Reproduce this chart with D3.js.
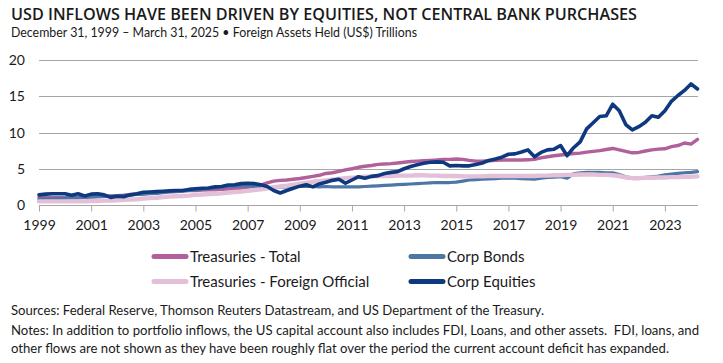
<!DOCTYPE html>
<html lang="en">
<head>
  <meta charset="UTF-8">
  <style>
    html, body { margin: 0; padding: 0; background: #fff; }
    svg { display: block; }
    .title { font-family: "Open Sans", sans-serif; font-weight: 600; font-size: 16px; fill: #1a1a1a; }
    .subtitle { font-family: "Lato", sans-serif; font-size: 12.5px; fill: #1a1a1a; }
    .tick-label { font-family: "Lato", sans-serif; font-size: 14px; fill: #1a1a1a; }
    .legend-text { font-family: "Lato", sans-serif; font-size: 15px; fill: #1a1a1a; }
    .note { font-family: "Lato", sans-serif; font-size: 13px; fill: #1a1a1a; }
    .grid { stroke: #a6a6a6; stroke-width: 1; }
    .series { fill: none; stroke-linejoin: round; stroke-linecap: round; }
  </style>
  <script src="https://d3js.org/d3.v7.min.js"></script>
</head>
<body>
  <svg width="723" height="363" id="chart"></svg>

  <script>
    // Quarterly observations, Dec 31 1999 (index 0) to Mar 31 2025 (index 101), US$ trillions
    const treasuriesTotal = [
      1.05, 1.05, 1.0, 1.0,   1.0, 1.0, 1.0, 1.05,    1.1, 1.15, 1.2, 1.25,
      1.3, 1.35, 1.45, 1.5,   1.55, 1.65, 1.7, 1.8,   1.85, 1.9, 1.95, 2.0,
      2.0, 2.05, 2.1, 2.1,    2.15, 2.2, 2.3, 2.35,   2.45, 2.6, 2.75, 3.05,
      3.3, 3.4, 3.45, 3.55,   3.65, 3.8, 3.95, 4.1,   4.35, 4.45, 4.65, 4.85,
      5.0, 5.2, 5.35, 5.45,   5.6, 5.65, 5.7, 5.8,    5.9, 6.0, 6.05, 6.1,
      6.15, 6.2, 6.3, 6.3,    6.35, 6.3, 6.15, 6.05,  6.05, 6.1, 6.15, 6.2,
      6.2, 6.2, 6.2, 6.25,    6.3, 6.5, 6.65, 6.8,    6.9, 7.0, 7.1, 7.15,
      7.3, 7.4, 7.5, 7.65,    7.8, 7.6, 7.4, 7.2,     7.25, 7.45, 7.6, 7.7,
      7.75, 8.05, 8.2, 8.55,  8.4, 9.05
    ];
    const corpBonds = [
      0.8, 0.85, 0.85, 0.9,   0.95, 1.0, 1.0, 1.05,   1.1, 1.15, 1.2, 1.2,
      1.25, 1.3, 1.35, 1.45,  1.5, 1.55, 1.6, 1.7,    1.8, 1.85, 1.9, 2.0,
      2.05, 2.15, 2.25, 2.35, 2.45, 2.55, 2.6, 2.65,  2.65, 2.6, 2.55, 2.45,
      2.4, 2.45, 2.5, 2.55,   2.55, 2.55, 2.55, 2.5,  2.55, 2.5, 2.5, 2.5,
      2.5, 2.5, 2.55, 2.6,    2.65, 2.7, 2.75, 2.8,   2.85, 2.9, 2.95, 3.0,
      3.05, 3.1, 3.1, 3.1,    3.15, 3.3, 3.45, 3.5,   3.55, 3.6, 3.65, 3.7,
      3.7, 3.7, 3.65, 3.6,    3.55, 3.7, 3.8, 3.85,   3.9, 3.7, 4.3, 4.45,
      4.5, 4.5, 4.5, 4.45,    4.45, 4.2, 3.9, 3.7,    3.75, 3.8, 3.9, 4.0,
      4.15, 4.25, 4.35, 4.45, 4.5, 4.6
    ];
    const treasuriesOfficial = [
      0.5, 0.5, 0.5, 0.5,     0.5, 0.5, 0.5, 0.5,     0.55, 0.55, 0.6, 0.6,
      0.65, 0.7, 0.75, 0.8,   0.9, 0.95, 1.0, 1.1,    1.15, 1.2, 1.25, 1.3,
      1.4, 1.45, 1.5, 1.55,   1.6, 1.7, 1.8, 1.85,    1.95, 2.05, 2.15, 2.3,
      2.45, 2.55, 2.65, 2.8,  2.95, 3.05, 3.2, 3.3,   3.4, 3.5, 3.6, 3.7,
      3.75, 3.85, 3.9, 3.95,  4.0, 4.0, 4.0, 4.05,    4.05, 4.05, 4.1, 4.1,
      4.05, 4.05, 4.0, 4.0,   4.0, 3.95, 3.95, 3.95,  3.95, 4.0, 4.0, 4.0,
      4.0, 4.0, 4.0, 4.0,     4.0, 4.05, 4.05, 4.1,   4.1, 4.15, 4.15, 4.2,
      4.2, 4.2, 4.15, 4.15,   4.1, 4.0, 3.8, 3.7,     3.7, 3.75, 3.75, 3.8,
      3.8, 3.85, 3.85, 3.9,   3.9, 3.95
    ];
    const corpEquities = [
      1.4, 1.5, 1.55, 1.55,   1.55, 1.35, 1.55, 1.25, 1.5, 1.55, 1.4, 1.05,
      1.2, 1.15, 1.4, 1.55,   1.75, 1.8, 1.85, 1.9,   1.95, 2.0, 2.0, 2.15,
      2.25, 2.3, 2.35, 2.5,   2.55, 2.75, 2.8, 2.95,  3.0, 2.95, 2.8, 2.55,
      2.0, 1.65, 2.0, 2.3,    2.6, 2.8, 2.5, 2.9,     3.15, 3.4, 3.55, 3.0,
      3.45, 3.9, 3.7, 3.95,   4.05, 4.35, 4.5, 4.6,   5.0, 5.3, 5.55, 5.75,
      5.9, 5.95, 5.9, 5.4,    5.45, 5.4, 5.4, 5.6,    5.8, 6.15, 6.35, 6.6,
      7.0, 7.05, 7.3, 7.6,    6.65, 7.25, 7.6, 7.7,   8.2, 6.8, 7.9, 8.7,
      10.5, 11.35, 12.2, 12.3, 13.9, 13.0, 11.1, 10.35, 10.8, 11.4, 12.3, 12.1,
      13.0, 14.3, 15.1, 15.8, 16.7, 16.0
    ];

    const seriesNames = ["Treasuries - Total", "Corp Bonds", "Treasuries - Foreign Official", "Corp Equities"];
    const seriesColors = ["#b2609a", "#4c76a6", "#e3bfd8", "#0f397f"];
    const seriesWidths = [3.4, 3.2, 4.4, 3.6];
    const seriesValues = [treasuriesTotal, corpBonds, treasuriesOfficial, corpEquities];

    const yTicks = [0, 5, 10, 15, 20];
    const xTickLabels = ["1999", "2001", "2003", "2005", "2007", "2009", "2011",
                         "2013", "2015", "2017", "2019", "2021", "2023"];

    const svg = d3.select("#chart");

    // titles
    svg.append("text").attr("class", "title")
      .attr("x", 11).attr("y", 20)
      .attr("textLength", 626).attr("lengthAdjust", "spacingAndGlyphs")
      .text("USD INFLOWS HAVE BEEN DRIVEN BY EQUITIES, NOT CENTRAL BANK PURCHASES");
    svg.append("text").attr("class", "subtitle")
      .attr("x", 11).attr("y", 37)
      .attr("textLength", 406).attr("lengthAdjust", "spacingAndGlyphs")
      .text("December 31, 1999 \u2013 March 31, 2025 \u2022 Foreign Assets Held (US$) Trillions");

    const x = d3.scaleLinear().domain([0, treasuriesTotal.length - 1]).range([39, 697.5]);
    const y = d3.scaleLinear().domain([0, 20]).range([205, 60]);

    // grid lines
    svg.append("g").selectAll("line")
      .data(yTicks)
      .join("line")
      .attr("class", "grid")
      .attr("x1", 39).attr("x2", 698)
      .attr("y1", d => Math.round(y(d)) + 0.5)
      .attr("y2", d => Math.round(y(d)) + 0.5);

    svg.append("g").selectAll("text")
      .data(yTicks)
      .join("text")
      .attr("class", "tick-label")
      .attr("x", 25)
      .attr("y", d => y(d) + 5)
      .attr("text-anchor", "end")
      .text(d => d);

    // x axis: a tick every two years, at each December
    const xAxis = d3.axisBottom(x)
      .tickValues(xTickLabels.map(t => (+t - 1999) * 4))
      .tickFormat((d, i) => xTickLabels[i])
      .tickSize(6)
      .tickSizeOuter(0)
      .tickPadding(9);
    const gx = svg.append("g")
      .attr("transform", `translate(0,${Math.round(y(0)) + 0.5})`)
      .call(xAxis);
    gx.select(".domain").attr("stroke", "#a6a6a6").attr("d", "M39,0H698");
    gx.selectAll(".tick line").attr("stroke", "#a6a6a6");
    gx.selectAll(".tick text").attr("class", "tick-label").attr("fill", "#1a1a1a");

    // series
    const line = d3.line()
      .x((d, i) => x(i))
      .y(d => y(d));

    svg.append("g").selectAll("path")
      .data(seriesValues)
      .join("path")
      .attr("class", "series")
      .attr("stroke", (d, i) => seriesColors[i])
      .attr("stroke-width", (d, i) => seriesWidths[i])
      .attr("d", line);

    // legend, two columns
    const legendX = [154, 411];
    const legendY = [256.5, 281.5];
    const legend = svg.append("g").selectAll("g")
      .data(seriesNames)
      .join("g")
      .attr("transform", (d, i) => `translate(${legendX[i % 2]},${legendY[Math.floor(i / 2)]})`);
    legend.append("line")
      .attr("x1", 0).attr("x2", 32)
      .attr("stroke", (d, i) => seriesColors[i])
      .attr("stroke-width", 5)
      .attr("stroke-linecap", "round");
    legend.append("text")
      .attr("class", "legend-text")
      .attr("x", 36).attr("y", 5.5)
      .text(d => d);

    // source and notes
    const notes = [
      "Sources: Federal Reserve, Thomson Reuters Datastream, and US Department of the Treasury.",
      "Notes: In addition to portfolio inflows, the US capital account also includes FDI, Loans, and other assets.  FDI, loans, and",
      "other flows are not shown as they have been roughly flat over the period the current account deficit has expanded."
    ];
    const noteY = [315, 335, 353];
    const noteW = [533, 688, 658];
    svg.append("g").selectAll("text")
      .data(notes)
      .join("text")
      .attr("class", "note")
      .attr("x", 11)
      .attr("y", (d, i) => noteY[i])
      .attr("textLength", (d, i) => noteW[i])
      .attr("lengthAdjust", "spacingAndGlyphs")
      .attr("xml:space", "preserve")
      .text(d => d);
  </script>
</body>
</html>
